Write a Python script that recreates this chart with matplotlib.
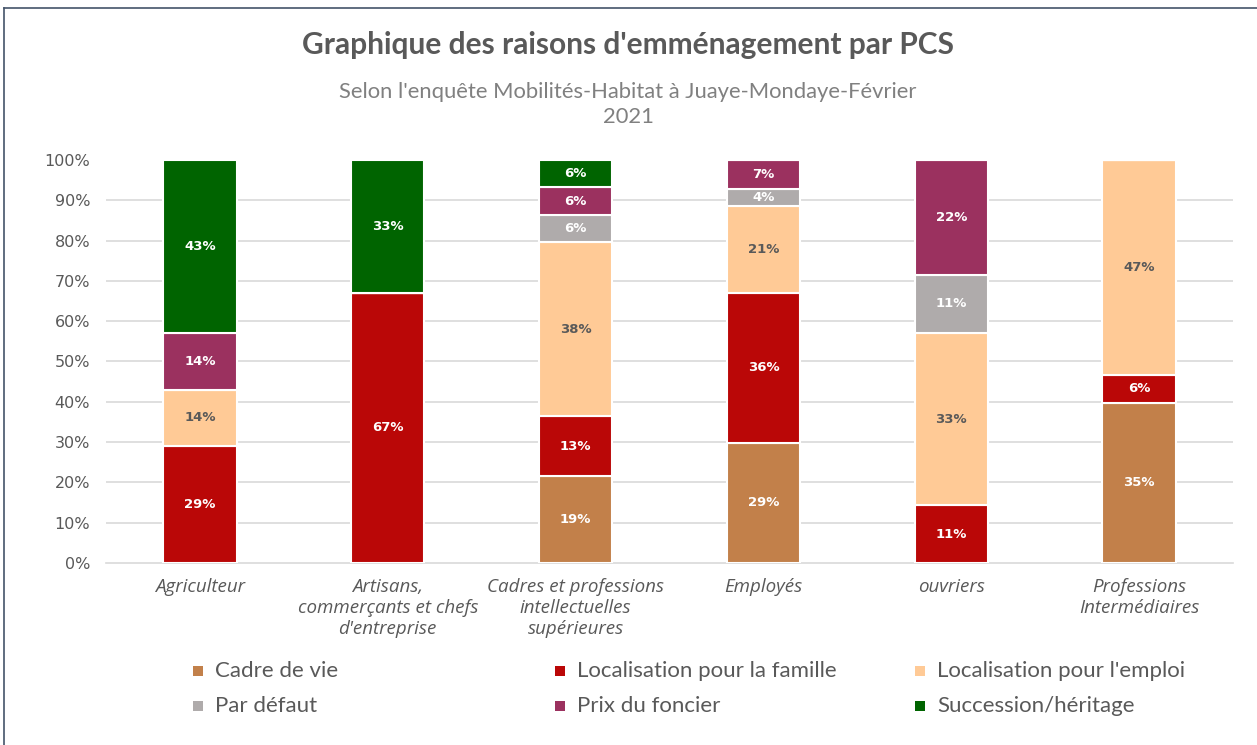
import numpy as np
import matplotlib.pyplot as plt
from matplotlib.patches import Rectangle
from matplotlib.lines import Line2D

# categories (PCS)
categories = ['Agriculteur',
              'Artisans,\ncommerçants et chefs\nd\'entreprise',
              'Cadres et professions\nintellectuelles\nsupérieures',
              'Employés',
              'ouvriers',
              'Professions\nIntermédiaires']

# raisons (label values in %, bars are normalised to 100%)
cadre_vie    = [0, 0, 19, 29, 0, 35]
famille      = [29, 67, 13, 36, 11, 6]
emploi       = [14, 0, 38, 21, 33, 47]
par_defaut   = [0, 0, 6, 4, 11, 0]
prix_foncier = [14, 0, 6, 7, 22, 0]
succession   = [43, 33, 6, 0, 0, 0]

series_names = ['Cadre de vie', 'Localisation pour la famille', "Localisation pour l'emploi",
                'Par défaut', 'Prix du foncier', 'Succession/héritage']
series = [cadre_vie, famille, emploi, par_defaut, prix_foncier, succession]
colors = ['#C2804A', '#BA0707', '#FFCA96', '#AFABAB', '#9B315F', '#006400']
label_colors = ['white', 'white', '#595959', 'white', 'white', 'white']

data = np.array(series, dtype=float)
totals = data.sum(axis=0)
share = data / totals * 100

W, H = 1257, 745
fig = plt.figure(figsize=(W/100, H/100), dpi=100)
ax = fig.add_axes([106/W, 1-563/H, (1233-106)/W, 403/H])

x = np.arange(len(categories))
bottom = np.zeros(len(categories))
for i in range(len(series)):
    ax.bar(x, share[i], 0.39, bottom=bottom, color=colors[i],
           edgecolor='white', linewidth=1.5, zorder=3)
    for j in range(len(categories)):
        if data[i, j] > 0:
            ax.text(x[j], bottom[j] + share[i, j]/2, '%d%%' % data[i, j],
                    ha='center', va='center', fontsize=9.5, fontweight='bold',
                    color=label_colors[i], family='DejaVu Sans', zorder=4)
    bottom += share[i]

ax.set_ylim(0, 100)
ax.set_xlim(-0.5, len(categories)-0.5)
ax.set_yticks(np.arange(0, 101, 10))
ax.set_yticklabels(['%d%%' % v for v in range(0, 101, 10)], fontsize=11.5,
                   color='#595959', family='DejaVu Sans')
for v in range(10, 100, 10):
    ax.axhline(v, color='#D9D9D9', linewidth=1.2, zorder=1)
ax.set_xticks(x)
ax.set_xticklabels(categories, fontsize=13.5, style='italic', color='#595959',
                   family='Open Sans', linespacing=1.22, va='top')
ax.tick_params(axis='y', length=0, pad=11.5)
ax.tick_params(axis='x', length=0, pad=11)
for s in ['top', 'right', 'left']:
    ax.spines[s].set_visible(False)
ax.spines['bottom'].set_color('#D9D9D9')
ax.spines['bottom'].set_linewidth(1.2)

fig.text(628/W, 1-45/H, "Graphique des raisons d'emménagement par PCS",
         ha='center', va='center', fontsize=21.5, fontweight='bold',
         color='#595959', family='Lato')
fig.text(628/W, 1-92/H, "Selon l'enquête Mobilités-Habitat à Juaye-Mondaye-Février",
         ha='center', va='center', fontsize=15.8, color='#808080', family='Lato')
fig.text(628/W, 1-117/H, "2021",
         ha='center', va='center', fontsize=15.8, color='#808080', family='Lato')

# legend, row by row
leg_x = [198, 560, 920]
leg_y = [671, 706]
for k, name in enumerate(series_names):
    px = leg_x[k % 3]
    py = leg_y[k // 3]
    fig.add_artist(Rectangle(((px-5)/W, 1-(py+5)/H), 10/W, 10/H,
                             transform=fig.transFigure, facecolor=colors[k],
                             edgecolor='none'))
    fig.text((px+17)/W, 1-py/H, name, ha='left', va='center',
             fontsize=16, color='#595959', family='Lato')

# chart frame
fig.add_artist(Line2D([4/W, 4/W], [0, 1-8/H], color='#44546A', linewidth=1.2))
fig.add_artist(Line2D([4/W, 1], [1-8/H, 1-8/H], color='#44546A', linewidth=1.2))

fig.savefig('out.png', dpi=100)
